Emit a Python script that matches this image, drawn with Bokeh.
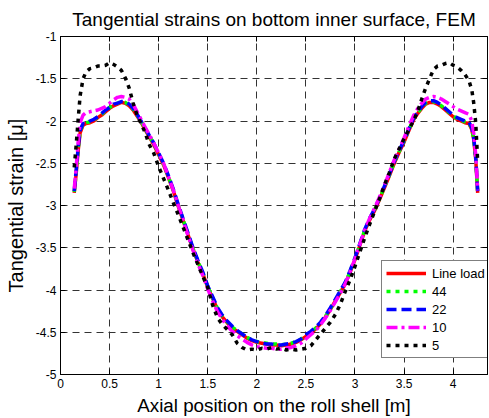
from bokeh.plotting import figure
from bokeh.models import LinearAxis, Range1d, Legend, LegendItem, FixedTicker
from bokeh.embed import file_html
from bokeh.resources import INLINE

TITLE = "Tangential strains on bottom inner surface, FEM"
X_LABEL = "Axial position on the roll shell [m]"
Y_LABEL = "Tangential strain [\u03bc]"

X_TICKS = [0, 0.5, 1, 1.5, 2, 2.5, 3, 3.5, 4]
X_TICK_LABELS = ["0", "0.5", "1", "1.5", "2", "2.5", "3", "3.5", "4"]
Y_TICKS = [-5, -4.5, -4, -3.5, -3, -2.5, -2, -1.5, -1]
Y_TICK_LABELS = ["-5", "-4.5", "-4", "-3.5", "-3", "-2.5", "-2", "-1.5", "-1"]

SERIES_NAMES = ["Line load", "44", "22", "10", "5"]

X = [0.14, 0.16, 0.18, 0.20, 0.23, 0.26, 0.30, 0.34, 0.38, 0.42,
     0.46, 0.50, 0.54, 0.58, 0.62, 0.66, 0.70, 0.74, 0.78, 0.82,
     0.86, 0.90, 0.95, 1.00, 1.05, 1.10, 1.15, 1.20, 1.25, 1.30,
     1.35, 1.40, 1.45, 1.50, 1.55, 1.60, 1.65, 1.70, 1.75, 1.80,
     1.85, 1.90, 1.95, 2.00, 2.05, 2.10, 2.15, 2.20, 2.25, 2.30,
     2.35, 2.40, 2.45, 2.50, 2.55, 2.60, 2.65, 2.70, 2.75, 2.80,
     2.85, 2.90, 2.95, 3.00, 3.05, 3.10, 3.15, 3.20, 3.25, 3.30,
     3.35, 3.40, 3.45, 3.50, 3.55, 3.60, 3.64, 3.68, 3.72, 3.76,
     3.80, 3.84, 3.88, 3.92, 3.96, 4.00, 4.04, 4.08, 4.12, 4.16,
     4.19, 4.21, 4.23, 4.25]

Y_LINE_LOAD = [-2.85, -2.62, -2.35, -2.14, -2.05, -2.03, -2.02, -2.00, -1.96, -1.93,
               -1.89, -1.85, -1.82, -1.80, -1.78, -1.79, -1.82, -1.87, -1.94, -2.01,
               -2.10, -2.18, -2.28, -2.40, -2.52, -2.67, -2.83, -3.01, -3.18, -3.35,
               -3.52, -3.67, -3.81, -3.97, -4.10, -4.23, -4.32, -4.39, -4.45, -4.49,
               -4.53, -4.57, -4.60, -4.62, -4.63, -4.64, -4.65, -4.65, -4.66, -4.65,
               -4.64, -4.62, -4.59, -4.55, -4.51, -4.46, -4.40, -4.32, -4.23, -4.13,
               -4.03, -3.93, -3.79, -3.64, -3.47, -3.30, -3.17, -3.06, -2.93, -2.79,
               -2.65, -2.50, -2.37, -2.25, -2.11, -1.98, -1.91, -1.85, -1.80, -1.78,
               -1.78, -1.80, -1.83, -1.87, -1.91, -1.95, -1.98, -2.00, -2.02, -2.03,
               -2.10, -2.22, -2.45, -2.85]

Y_44 = [-2.84, -2.60, -2.33, -2.12, -2.04, -2.02, -2.01, -1.99, -1.95, -1.92,
        -1.88, -1.84, -1.81, -1.79, -1.77, -1.78, -1.81, -1.86, -1.93, -2.00,
        -2.09, -2.17, -2.27, -2.39, -2.51, -2.66, -2.82, -3.00, -3.17, -3.34,
        -3.51, -3.66, -3.80, -3.96, -4.09, -4.22, -4.31, -4.38, -4.44, -4.48,
        -4.52, -4.56, -4.59, -4.61, -4.62, -4.63, -4.64, -4.64, -4.65, -4.64,
        -4.63, -4.61, -4.58, -4.54, -4.50, -4.45, -4.39, -4.31, -4.22, -4.12,
        -4.02, -3.92, -3.78, -3.63, -3.46, -3.29, -3.16, -3.05, -2.92, -2.78,
        -2.64, -2.49, -2.36, -2.24, -2.10, -1.97, -1.90, -1.84, -1.79, -1.77,
        -1.77, -1.79, -1.82, -1.86, -1.90, -1.94, -1.97, -1.99, -2.01, -2.02,
        -2.09, -2.21, -2.44, -2.84]

Y_22 = [-2.83, -2.58, -2.31, -2.11, -2.03, -2.03, -2.00, -1.98, -1.95, -1.91,
        -1.87, -1.84, -1.80, -1.79, -1.77, -1.77, -1.80, -1.85, -1.92, -2.00,
        -2.08, -2.16, -2.26, -2.38, -2.50, -2.65, -2.81, -2.99, -3.16, -3.33,
        -3.50, -3.65, -3.79, -3.95, -4.08, -4.21, -4.30, -4.37, -4.43, -4.48,
        -4.52, -4.56, -4.59, -4.61, -4.63, -4.64, -4.64, -4.65, -4.65, -4.64,
        -4.63, -4.61, -4.58, -4.53, -4.49, -4.44, -4.38, -4.30, -4.21, -4.11,
        -4.01, -3.91, -3.77, -3.62, -3.45, -3.28, -3.15, -3.04, -2.91, -2.77,
        -2.63, -2.48, -2.35, -2.23, -2.09, -1.96, -1.89, -1.83, -1.78, -1.76,
        -1.76, -1.78, -1.81, -1.85, -1.89, -1.93, -1.96, -1.98, -2.00, -2.01,
        -2.08, -2.20, -2.43, -2.83]

Y_10 = [-2.80, -2.55, -2.25, -2.02, -1.93, -1.90, -1.89, -1.88, -1.87, -1.85,
        -1.83, -1.79, -1.75, -1.72, -1.71, -1.72, -1.74, -1.80, -1.89, -1.98,
        -2.07, -2.15, -2.26, -2.38, -2.50, -2.66, -2.82, -3.00, -3.18, -3.36,
        -3.53, -3.69, -3.83, -3.99, -4.13, -4.26, -4.35, -4.43, -4.49, -4.54,
        -4.58, -4.62, -4.65, -4.67, -4.68, -4.69, -4.69, -4.70, -4.70, -4.69,
        -4.68, -4.66, -4.63, -4.58, -4.53, -4.48, -4.41, -4.33, -4.24, -4.14,
        -4.04, -3.93, -3.79, -3.63, -3.46, -3.29, -3.15, -3.03, -2.90, -2.76,
        -2.61, -2.46, -2.33, -2.20, -2.06, -1.93, -1.85, -1.79, -1.74, -1.72,
        -1.71, -1.72, -1.74, -1.77, -1.80, -1.83, -1.86, -1.88, -1.90, -1.92,
        -2.00, -2.15, -2.40, -2.82]

Y_5 = [-2.55, -2.28, -1.98, -1.70, -1.50, -1.42, -1.38, -1.37, -1.35, -1.35,
       -1.34, -1.31, -1.33, -1.36, -1.40, -1.49, -1.61, -1.79, -1.93, -2.03,
       -2.13, -2.27, -2.38, -2.54, -2.68, -2.82, -2.97, -3.11, -3.26, -3.41,
       -3.56, -3.70, -3.84, -3.97, -4.18, -4.33, -4.41, -4.47, -4.53, -4.63,
       -4.68, -4.71, -4.70, -4.71, -4.69, -4.70, -4.68, -4.70, -4.69, -4.71,
       -4.70, -4.71, -4.70, -4.69, -4.66, -4.59, -4.52, -4.45, -4.38, -4.29,
       -4.17, -4.02, -3.88, -3.72, -3.55, -3.38, -3.22, -3.07, -2.92, -2.76,
       -2.61, -2.45, -2.33, -2.21, -2.10, -1.99, -1.88, -1.74, -1.61, -1.50,
       -1.39, -1.35, -1.34, -1.32, -1.31, -1.34, -1.36, -1.40, -1.45, -1.52,
       -1.63, -1.79, -2.02, -2.48]

SERIES = [Y_LINE_LOAD, Y_44, Y_22, Y_10, Y_5]
COLORS = ["#FF0000", "#00FF00", "#0000FF", "#FF00FF", "#000000"]
DASHES = ["solid", "4 5", "10 5", "11 4 3 4", "4 5"]

FONT = "Liberation Sans"

p = figure(width=489, height=418, output_backend="svg", toolbar_location=None,
           x_range=Range1d(0, 4.35), y_range=Range1d(-5, -1),
           min_border_left=60, min_border_right=2, min_border_top=33,
           min_border_bottom=43, title=TITLE)

p.title.text_font = FONT
p.title.text_font_size = "19px"
p.title.text_font_style = "normal"
p.title.align = "center"
p.title.standoff = 13
p.title.text_color = "black"

p.outline_line_color = "black"
p.outline_line_alpha = 1
p.background_fill_color = "white"
p.border_fill_color = "white"

for ax in [p.xaxis[0], p.yaxis[0]]:
    ax.major_label_text_font = FONT
    ax.major_label_text_font_size = "12px"
    ax.major_label_text_color = "black"
    ax.axis_label_text_font = FONT
    ax.axis_label_text_font_style = "normal"
    ax.axis_label_text_color = "black"
    ax.major_tick_in = 5
    ax.major_tick_out = 0
    ax.minor_tick_line_color = None
    ax.axis_line_color = "black"
    ax.major_tick_line_color = "black"
    ax.major_label_standoff = 4
    ax.axis_label_standoff = 4

p.xaxis.axis_label_text_font_size = "18.8px"
p.yaxis.axis_label_text_font_size = "20px"
p.yaxis.axis_label_standoff = 6
p.xaxis.axis_label = X_LABEL
p.yaxis.axis_label = Y_LABEL
p.xaxis.ticker = FixedTicker(ticks=X_TICKS)
p.yaxis.ticker = FixedTicker(ticks=Y_TICKS)
p.xaxis.major_label_overrides = {t: l for t, l in zip(X_TICKS, X_TICK_LABELS)}
p.yaxis.major_label_overrides = {t: l for t, l in zip(Y_TICKS, Y_TICK_LABELS)}

for ticks, loc in [(X_TICKS, "above"), (Y_TICKS, "right")]:
    ax = LinearAxis(ticker=FixedTicker(ticks=ticks),
                    major_label_overrides={t: "" for t in ticks},
                    major_label_standoff=0, major_tick_in=5, major_tick_out=0,
                    minor_tick_line_color=None, axis_line_color="black",
                    major_tick_line_color="black")
    p.add_layout(ax, loc)

p.xgrid.ticker = FixedTicker(ticks=X_TICKS)
p.ygrid.ticker = FixedTicker(ticks=Y_TICKS)
for g in [p.xgrid[0], p.ygrid[0]]:
    g.grid_line_color = "#333333"
    g.grid_line_dash = "7 5"
    g.grid_line_width = 1
    g.grid_line_alpha = 1

items = []
for name, ys, col, dash in zip(SERIES_NAMES, SERIES, COLORS, DASHES):
    r = p.line(X, ys, line_color=col, line_width=3.5, line_dash=dash, line_cap="butt")
    items.append(LegendItem(label=name, renderers=[r]))

legend = Legend(items=items, location=(321, 16))
legend.label_text_font = FONT
legend.label_text_font_size = "13px"
legend.label_text_color = "black"
legend.glyph_width = 40
legend.glyph_height = 16
legend.label_height = 16
legend.spacing = 2
legend.padding = 4
legend.margin = 0
legend.label_standoff = 6
legend.border_line_color = "black"
legend.border_line_width = 1
legend.background_fill_color = "white"
legend.background_fill_alpha = 1
p.add_layout(legend)

open("out.html", "w").write(file_html(p, INLINE))
